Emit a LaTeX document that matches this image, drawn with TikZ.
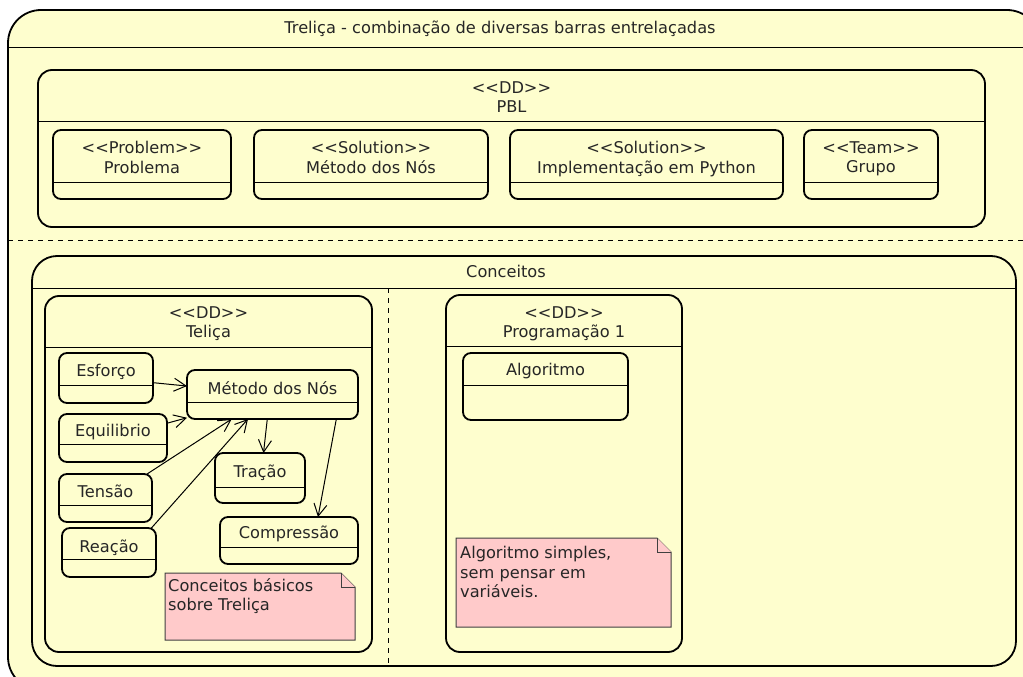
\documentclass[tikz,border=0pt]{standalone}
\usepackage{fontspec}
\setmainfont{DejaVu Sans}
\usepackage{xcolor}
\usepackage{tikz}
\usetikzlibrary{arrows.meta}

\definecolor{umlfill}{HTML}{FEFECE}
\definecolor{notefill}{HTML}{FFCACA}

\begin{document}
\begin{tikzpicture}[x=1pt, y=-1pt, >={Straight Barb[length=12pt,width=13pt]},
    box/.style={draw, line width=1.8pt, fill=umlfill, rounded corners=8pt, inner sep=0pt, outer sep=0pt},
    pkg/.style={box, rounded corners=14pt},
    divider/.style={draw, line width=1pt},
    txt/.style={font=\fontsize{16.2}{19.5}\selectfont, text=black!85, inner sep=0pt, align=center, anchor=north},
    notebox/.style={draw=black!75, line width=1pt, fill=notefill}]
            \useasboundingbox (0,0) rectangle (1023,677);
            \clip (0,0) rectangle (1023,677);

            % outer frame
            \node[box, rounded corners=33pt, minimum width=1032pt, minimum height=680pt] (trelica) at (524,350) {};
            \draw[divider] (8,48) -- (1040,48);
            \draw[divider, dash pattern=on 5pt off 5pt] (8,240) -- (1040,240);
            \node[txt] (trelicaT) at (500,21) {Treliça - combinação de diversas barras entrelaçadas};

            % PBL
            \node[pkg, minimum width=947pt, minimum height=157pt] (pbl) at (511.5,148.5) {};
            \draw[divider] (38,121) -- (985,121);
            \node[txt] (pblT) at (511.5,81) {<{}<DD>{}>\\PBL};

            \node[box, minimum width=178pt, minimum height=69pt] (problema) at (142,164.5) {};
            \node[box, minimum width=234pt, minimum height=69pt] (solMetodo) at (371,164.5) {};
            \node[box, minimum width=273pt, minimum height=69pt] (solPython) at (646.5,164.5) {};
            \node[box, minimum width=134pt, minimum height=69pt] (grupo) at (871,164.5) {};
            \draw[divider] (53,182) -- (231,182);
            \draw[divider] (254,182) -- (488,182);
            \draw[divider] (510,182) -- (783,182);
            \draw[divider] (804,182) -- (938,182);
            \node[txt] (problemaT) at (142,141) {<{}<Problem>{}>\\Problema};
            \node[txt] (solMetodoT) at (371,141) {<{}<Solution>{}>\\Método dos Nós};
            \node[txt] (solPythonT) at (646.5,141) {<{}<Solution>{}>\\Implementação em Python};
            \node[txt] (grupoT) at (871,141) {<{}<Team>{}>\\Grupo};

            % Conceitos
            \node[box, rounded corners=25pt, minimum width=984pt, minimum height=410pt] (conceitos) at (524,461) {};
            \draw[divider] (32,288) -- (1016,288);
            \draw[divider, dash pattern=on 5pt off 5pt] (388,288) -- (388,666);
            \node[txt] (conceitosT) at (506,265) {Conceitos};

            % Telica
            \node[pkg, minimum width=327pt, minimum height=356pt] (telica) at (208.5,474) {};
            \draw[divider] (45,347) -- (372,347);
            \node[txt] (telicaT) at (208.5,306) {<{}<DD>{}>\\Teliça};

            \node[box, minimum width=94pt, minimum height=50pt] (esforco) at (106,378) {};
            \node[box, minimum width=108pt, minimum height=48pt] (equilibrio) at (113,438) {};
            \node[box, minimum width=93pt, minimum height=48pt] (tensao) at (105.5,498) {};
            \node[box, minimum width=94pt, minimum height=49pt] (reacao) at (109,552.5) {};
            \node[box, minimum width=171pt, minimum height=49pt] (metodo) at (272.5,394.5) {};
            \node[box, minimum width=90pt, minimum height=50pt] (tracao) at (260,478) {};
            \node[box, minimum width=138pt, minimum height=47pt] (compressao) at (289,540.5) {};
            \draw[divider] (59,385) -- (153,385);
            \draw[divider] (59,444) -- (167,444);
            \draw[divider] (59,505) -- (152,505);
            \draw[divider] (62,559) -- (156,559);
            \draw[divider] (187,402) -- (358,402);
            \draw[divider] (215,487) -- (305,487);
            \draw[divider] (220,547) -- (358,547);
            \node[txt] (esforcoT) at (106,364) {Esforço};
            \node[txt] (equilibrioT) at (113,424) {Equilibrio};
            \node[txt] (tensaoT) at (105.5,485) {Tensão};
            \node[txt] (reacaoT) at (109,540) {Reação};
            \node[txt] (metodoT) at (272.5,381) {Método dos Nós};
            \node[txt] (tracaoT) at (260,465) {Tração};
            \node[txt] (compressaoT) at (289,526) {Compressão};

            \draw[->, line width=1pt] (esforco) -- (metodo);
            \draw[->, line width=1pt] (equilibrio) -- (metodo);
            \draw[->, line width=1pt] (tensao.30) -- (metodo.211);
            \draw[->, line width=1pt] (reacao.30) -- (metodo.225);
            \draw[->, line width=1pt] (metodo.258) -- (tracao.82);
            \draw[->, line width=1pt] (metodo.339) -- (compressao.39);

            \draw[notebox] (165,573) -- (341,573) -- (355,587) -- (355,640) -- (165,640) -- cycle;
            \draw[notebox] (341,573) -- (341,587) -- (355,587);
            \node[txt, anchor=north west, align=left] (noteTelica) at (168,578) {Conceitos básicos\\sobre Treliça};

            % Programacao 1
            \node[pkg, minimum width=236pt, minimum height=357pt] (programacao) at (564,473.5) {};
            \draw[divider] (446,346) -- (682,346);
            \node[txt] (programacaoT) at (564,306) {<{}<DD>{}>\\Programação 1};

            \node[box, minimum width=165pt, minimum height=67pt] (algoritmo) at (545.5,386.5) {};
            \draw[divider] (463,385) -- (628,385);
            \node[txt] (algoritmoT) at (545.5,363) {Algoritmo};

            \draw[notebox] (456,538) -- (657,538) -- (671,552) -- (671,627) -- (456,627) -- cycle;
            \draw[notebox] (657,538) -- (657,552) -- (671,552);
            \node[txt, anchor=north west, align=left] (noteProgramacao) at (460,546) {Algoritmo simples,\\sem pensar em\\variáveis.};
        \end{tikzpicture}
\end{document}
